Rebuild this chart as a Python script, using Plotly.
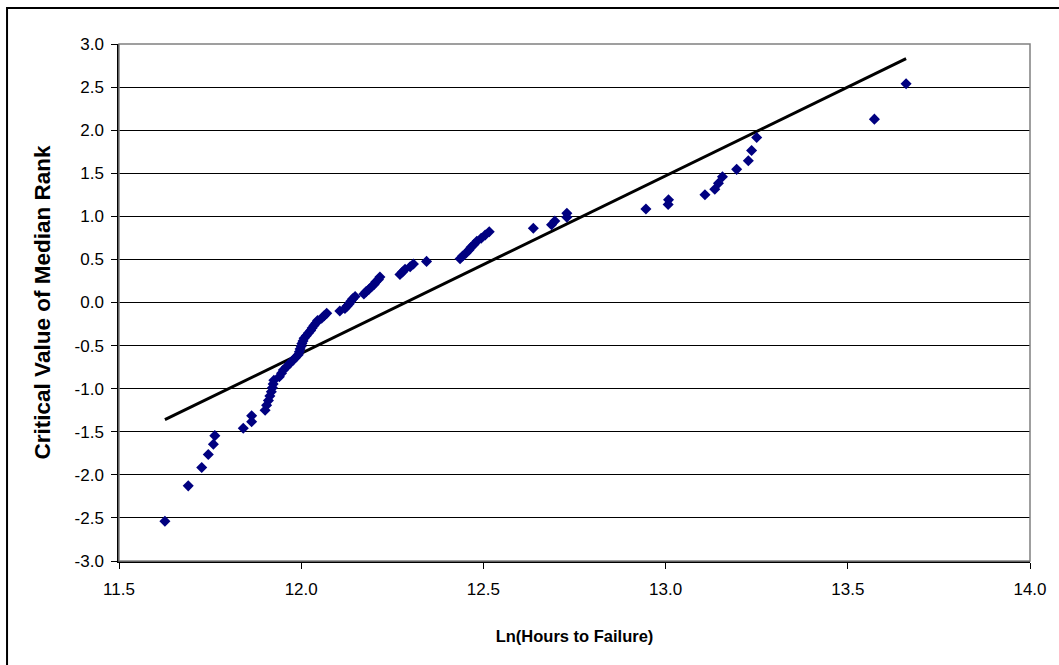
import plotly.graph_objects as go

# Ln(hours to failure), sorted
ln_hours = [
    11.626, 11.690, 11.727, 11.745, 11.759, 11.763, 11.841, 11.864, 11.864, 11.901,
    11.905, 11.910, 11.914, 11.918, 11.921, 11.923, 11.925, 11.940, 11.946, 11.951,
    11.960, 11.968, 11.977, 11.984, 11.992, 11.995, 11.997, 12.000, 12.002, 12.005,
    12.008, 12.014, 12.020, 12.026, 12.030, 12.035, 12.040, 12.045, 12.056, 12.063,
    12.070, 12.106, 12.120, 12.126, 12.132, 12.136, 12.141, 12.148, 12.172, 12.178,
    12.186, 12.193, 12.200, 12.205, 12.212, 12.216, 12.271, 12.278, 12.285, 12.299,
    12.308, 12.344, 12.436, 12.443, 12.452, 12.460, 12.466, 12.474, 12.482, 12.494,
    12.505, 12.516, 12.637, 12.687, 12.696, 12.729, 12.729, 12.946, 13.007, 13.008,
    13.108, 13.135, 13.145, 13.156, 13.195, 13.227, 13.236, 13.250, 13.573, 13.660,
]

# Critical value of median rank
crit_value = [
    -2.539, -2.128, -1.915, -1.764, -1.645, -1.545, -1.459, -1.383, -1.314, -1.250,
    -1.192, -1.137, -1.085, -1.036, -0.989, -0.945, -0.903, -0.862, -0.822, -0.784,
    -0.746, -0.710, -0.674, -0.640, -0.606, -0.573, -0.540, -0.508, -0.477, -0.446,
    -0.415, -0.385, -0.355, -0.326, -0.297, -0.268, -0.240, -0.210, -0.182, -0.154,
    -0.126, -0.098, -0.070, -0.042, -0.014, 0.014, 0.042, 0.070, 0.098, 0.126,
    0.154, 0.182, 0.210, 0.240, 0.268, 0.297, 0.326, 0.355, 0.385, 0.415,
    0.446, 0.477, 0.508, 0.540, 0.573, 0.606, 0.640, 0.674, 0.710, 0.746,
    0.784, 0.822, 0.862, 0.903, 0.945, 0.989, 1.036, 1.085, 1.137, 1.192,
    1.250, 1.314, 1.383, 1.459, 1.545, 1.645, 1.764, 1.915, 2.128, 2.539,
]

# Fitted line end points
fit_x = [11.626, 13.660]
fit_y = [-1.36, 2.83]

x_ticks = [11.5, 12.0, 12.5, 13.0, 13.5, 14.0]
y_ticks = [-3.0, -2.5, -2.0, -1.5, -1.0, -0.5, 0.0, 0.5, 1.0, 1.5, 2.0, 2.5, 3.0]

FONT = "Liberation Sans, Arial, sans-serif"

fig = go.Figure()
fig.add_trace(go.Scatter(
    x=fit_x, y=fit_y, mode="lines",
    line=dict(color="#000000", width=3),
    showlegend=False, hoverinfo="skip",
))
fig.add_trace(go.Scatter(
    x=ln_hours, y=crit_value, mode="markers",
    marker=dict(symbol="diamond", size=8.5, color="#000080", line=dict(width=0)),
    showlegend=False,
))

fig.update_layout(
    width=1059, height=665,
    margin=dict(l=119, r=29, t=44, b=104),
    paper_bgcolor="white", plot_bgcolor="white",
    font=dict(family=FONT, size=17, color="#000000"),
    xaxis=dict(
        range=[11.5, 14.0], tickvals=x_ticks,
        ticktext=[f"{v:.1f}" for v in x_ticks],
        showgrid=False, zeroline=False,
        showline=True, linecolor="#000000", linewidth=1.5,
        ticks="outside", ticklen=6, tickcolor="#000000", tickwidth=1,
        tickfont=dict(family=FONT, size=17),
        ticklabelstandoff=6,
        title=dict(text="<b>Ln(Hours to Failure)</b>", font=dict(family=FONT, size=16.5), standoff=32),
    ),
    yaxis=dict(
        range=[-3.0, 3.0], tickvals=y_ticks,
        ticktext=[f"{v:.1f}" for v in y_ticks],
        showgrid=True, gridcolor="#000000", gridwidth=1,
        zeroline=False,
        showline=True, linecolor="#000000", linewidth=1.5,
        ticks="outside", ticklen=6, tickcolor="#000000", tickwidth=1,
        tickfont=dict(family=FONT, size=17),
        ticklabelstandoff=4,
        title=dict(text="<b>Critical Value of Median Rank</b>", font=dict(family=FONT, size=22.5), standoff=18),
    ),
    shapes=[
        # plot area border (gray)
        dict(type="rect", xref="paper", yref="paper", x0=0, x1=1, y0=0, y1=1,
             line=dict(color="#808080", width=1.5), layer="above"),
        # outer chart border
        dict(type="rect", xref="paper", yref="paper",
             x0=-0.1229, x1=1.04, y0=-0.22, y1=1.0696,
             line=dict(color="#000000", width=2), layer="above"),
    ],
)

fig.write_html(
    "out.html",
    config={"displayModeBar": False},
    post_script="document.body.style.margin='0px';document.body.style.overflow='hidden';",
)
